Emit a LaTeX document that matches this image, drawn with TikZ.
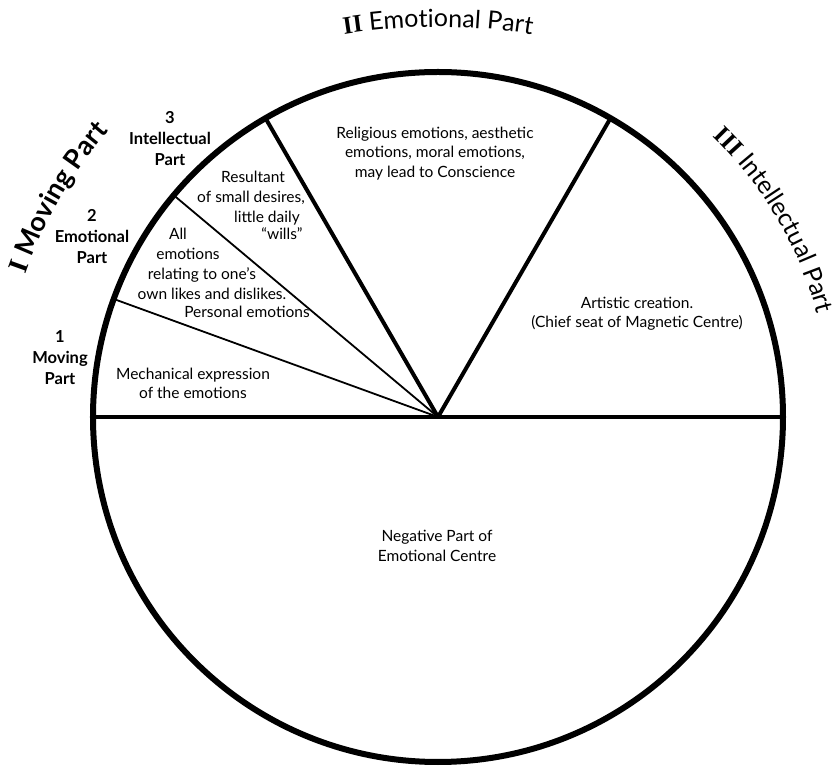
\documentclass[tikz,border=0pt]{standalone}
\usepackage{fontspec}
\setmainfont{Lato}
\newfontfamily\numfont{Liberation Serif}
\usetikzlibrary{decorations.text,calc}
\begin{document}
\begin{tikzpicture}[x=1pt,y=1pt,
  bodytext/.style={font=\fontsize{15.5}{19.5}\selectfont, inner sep=0pt, align=center},
  linetext/.style={font=\fontsize{15.5}{19.5}\selectfont, inner sep=0pt, anchor=base},
  partlabel/.style={font=\bfseries\fontsize{16.5}{21}\selectfont, inner sep=0pt, align=center},
  rim/.style={line width=6pt},
  thickrad/.style={line width=4pt},
  thinrad/.style={line width=1.8pt},
]
\useasboundingbox (-438,-353) rectangle (400,417);
\coordinate (O) at (0,0);
\coordinate (E) at (0:345);
\coordinate (W) at (180:345);
\coordinate (R60) at (60:345);
\coordinate (R120) at (120:345);
\coordinate (R140) at (140:345);
\coordinate (R160) at (160:345);
\draw[thinrad] (O) -- (R140);
\draw[thinrad] (O) -- (R160);
\draw[thickrad] (O) -- (R120);
\draw[thickrad] (O) -- (R60);
\draw[thickrad] (W) -- (E);
\draw[rim] (O) circle[radius=345];

% titles along arcs
\path[decorate, decoration={text along path, text align=center,
  text={|\numfont\bfseries\fontsize{25}{30}\selectfont|II|\rmfamily\mdseries\fontsize{25}{30}\selectfont| Emotional Part}}]
  ($(0,-210)+(105:600)$) arc[start angle=105, end angle=75, radius=600];
\path[decorate, decoration={text along path, text align=center,
  text={|\numfont\bfseries\fontsize{25}{30}\selectfont|III|\rmfamily\mdseries\fontsize{25}{30}\selectfont| Intellectual Part}}]
  (60.4:393) arc[start angle=60.4, end angle=0.4, radius=393];
\path[decorate, decoration={text along path, text align=center,
  text={|\numfont\bfseries\fontsize{28}{32}\selectfont|I|\rmfamily\bfseries\fontsize{27}{32}\selectfont| Moving Part}}]
  (180:436) arc[start angle=180, end angle=120, radius=436];

% sector texts
\node[bodytext] (relig) at (-3,263.5) {Religious emotions, aesthetic\\emotions, moral emotions,\\may lead to Conscience};
\node[bodytext] (artist) at (199,103.5) {Artistic creation.\\(Chief seat of Magnetic Centre)};
\node[bodytext] (negative) at (-1,-129) {Negative Part of\\Emotional Centre};
\node[bodytext] (mech) at (-245,33.5) {Mechanical expression\\of the emotions};

\node[linetext] (res1) at (-185,234) {Resultant};
\node[linetext] (res2) at (-187,214) {of small desires,};
\node[linetext] (res3) at (-171,194) {little daily};
\node[linetext] (res4) at (-156,177) {``wills''};

\node[linetext] (all1) at (-260,177) {All};
\node[linetext] (all2) at (-250,157) {emotions};
\node[linetext] (all3) at (-236,137) {relating to one's};
\node[linetext] (all4) at (-226,117) {own likes and dislikes.};
\node[linetext] (all5) at (-191,99) {Personal emotions};

% sub-part labels
\node[partlabel] (lab3) at (-268,278) {3\\Intellectual\\Part};
\node[partlabel] (lab2) at (-346,180.5) {2\\Emotional\\Part};
\node[partlabel] (lab1) at (-378,59.5) {1\\Moving\\Part};
\end{tikzpicture}
\end{document}
